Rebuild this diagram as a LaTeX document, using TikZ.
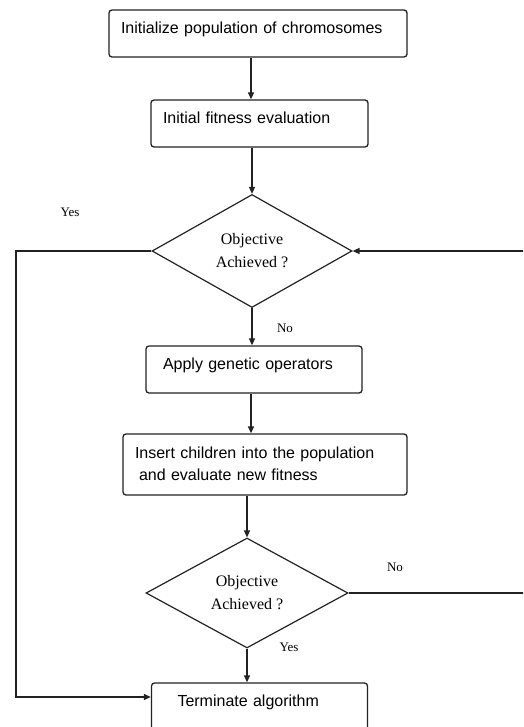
\documentclass[tikz,border=0pt]{standalone}
\usepackage{fontspec}
\newfontfamily\boxfont{Liberation Sans}
\newfontfamily\testfont{Liberation Serif}
\usetikzlibrary{shapes.geometric,arrows.meta,calc}
\definecolor{FlowLine}{HTML}{222222}

\tikzset{
  stepbox/.style={rectangle,draw=FlowLine,line width=1.3pt,rounded corners=3pt,align=left,
    inner xsep=12pt,inner ysep=0pt,text height=23.5pt,text depth=23.5pt,
    font=\boxfont\fontsize{16}{22}\selectfont},
  testbox/.style={diamond,draw=FlowLine,line width=1.2pt,inner sep=0pt,align=center,
    font=\testfont\fontsize{16}{23}\selectfont},
  answer/.style={inner sep=0pt,font=\testfont\fontsize{13}{15}\selectfont},
  flow/.style={draw=FlowLine,line width=1.3pt,-{Triangle[length=7pt,width=6pt]}},
}

\begin{document}
\begin{tikzpicture}[x=1pt,y=-1pt]
    \clip (0,0) rectangle (523,727);

    \node[stepbox,text width=274pt] (init) at (258,33.5) {Initialize population of chromosomes};
    \node[stepbox,text width=193pt] (fit) at (259.5,123.5) {Initial fitness evaluation};
    \node[testbox,minimum width=200pt,minimum height=113pt] (obj1) at (252,251) {Objective\\Achieved ?};
    \node[stepbox,text width=192pt] (oper) at (254,369.5) {\hspace*{5pt}Apply genetic operators};
    \node[stepbox,text width=260pt,text height=24.5pt,text depth=36.5pt] (insert) at (265,464.5)
        {Insert children into the population\\\hspace*{4pt}and evaluate new fitness};
    \node[testbox,minimum width=202pt,minimum height=110pt] (obj2) at (247,593) {Objective\\Achieved ?};
    \node[stepbox,text width=192pt] (term) at (259.5,706.5) {\hspace*{14pt}Terminate algorithm};

    \node[answer] (yes1) at (70,212) {Yes};
    \node[answer] (no1) at (285,328) {No};
    \node[answer] (no2) at (395,567) {No};
    \node[answer] (yes2) at (289,647) {Yes};

    \coordinate (spine) at (251,0);
    \coordinate (yesturn) at (16,697);
    \coordinate (noturn) at (527,251);

    \draw[flow] (init.south -| spine) -- (fit.north -| spine);
    \draw[flow] (fit.south -| obj1.north) -- (obj1.north);
    \draw[flow] (obj1.south) -- (oper.north -| obj1.south);
    \draw[flow] (oper.south -| spine) -- (insert.north -| spine);
    \draw[flow] (insert.south -| obj2.north) -- (obj2.north);
    \draw[flow] (obj2.south) -- (term.north -| obj2.south);
    \draw[flow] (obj1.west) -| (yesturn) -- (yesturn -| term.west);
    \draw[flow] (obj2.east) -| (noturn) -- (obj1.east);
\end{tikzpicture}
\end{document}
